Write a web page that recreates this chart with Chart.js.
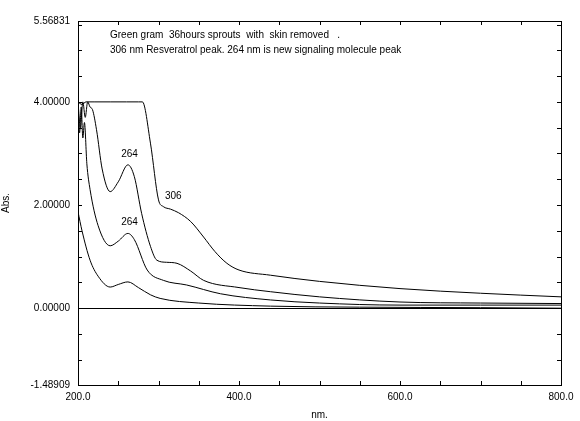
<!DOCTYPE html>
<html><head><meta charset="utf-8">
<script src="https://cdn.jsdelivr.net/npm/chart.js@4"></script>
<style>body{margin:0;background:#fff}#wrap{width:580px;height:421px}</style>
</head><body><div id="wrap"><canvas id="c"></canvas></div>
<script>
// wavelengths (nm) and absorbance
let nm1 = [200, 205, 210, 220, 240, 260, 275, 280, 290, 300, 306, 315, 325, 340, 356, 370, 385, 400, 439, 500, 600, 700, 800];
let abs1 = [4.0, 3.95, 4.0, 4.0, 4.0, 4.0, 4.0, 4.0, 3.2, 2.1, 1.97, 1.92, 1.85, 1.68, 1.38, 1.1, 0.87, 0.74, 0.64, 0.52, 0.38, 0.29, 0.22];
let nm2 = [200, 203, 206, 209, 212, 215, 218, 223, 230, 240, 250, 262, 270, 279, 290, 298, 310, 323, 340, 356, 400, 439, 500, 600, 700, 800];
let abs2 = [4.0, 3.5, 4.0, 3.7, 4.0, 3.9, 3.85, 3.46, 2.7, 2.26, 2.45, 2.78, 2.55, 1.84, 1.2, 0.93, 0.89, 0.87, 0.72, 0.54, 0.4, 0.32, 0.22, 0.12, 0.1, 0.09];
let nm3 = [200, 202, 204, 206, 208, 211, 215, 225, 240, 250, 262, 270, 286, 306, 335, 377, 439, 500, 600, 700, 800];
let abs3 = [4.0, 3.4, 3.9, 3.3, 3.6, 2.8, 2.3, 1.6, 1.21, 1.3, 1.45, 1.33, 0.74, 0.54, 0.45, 0.28, 0.16, 0.1, 0.06, 0.06, 0.06];
let nm4 = [200, 205, 215, 225, 240, 250, 262, 275, 290, 302, 350, 439, 550, 700, 800];
let abs4 = [1.87, 1.5, 0.93, 0.62, 0.41, 0.46, 0.51, 0.4, 0.26, 0.19, 0.1, 0.04, 0.02, 0.01, 0.0];
let yTicks = [-1.48909, 0, 2, 4, 5.56831];
let xTicks = [200, 400, 600, 800];
let peaks = [[264, 2.78, "264"], [264, 1.45, "264"], [306, 1.97, "306"]];
let notes = ["Green gram  36hours sprouts  with  skin removed   .", "306 nm Resveratrol peak. 264 nm is new signaling molecule peak"];

function pts(xs, ys) { return xs.map((x, i) => ({x: x, y: ys[i]})); }
function line(d) {
  return {data: d, borderColor: "#000", borderWidth: 1, pointRadius: 0, cubicInterpolationMode: "monotone", fill: false};
}

const extras = {
  id: "extras",
  afterDraw(c) {
    let ctx = c.ctx, a = c.chartArea, x = c.scales.x, y = c.scales.y;
    ctx.save();
    ctx.strokeStyle = "#000";
    ctx.lineWidth = 1;
    ctx.strokeRect(a.left + 0.5, a.top + 0.5, a.right - a.left, a.bottom - a.top);
    // zero line
    let y0 = Math.round(y.getPixelForValue(0)) + 0.5;
    ctx.beginPath(); ctx.moveTo(a.left, y0); ctx.lineTo(a.right, y0); ctx.stroke();
    // minor ticks
    ctx.beginPath();
    for (let v = -1.5; v <= 5.5; v += 0.5) {
      let p = Math.round(y.getPixelForValue(v)) + 0.5;
      if (p < a.top || p > a.bottom) continue;
      ctx.moveTo(a.left, p); ctx.lineTo(a.left + 4, p);
      ctx.moveTo(a.right, p); ctx.lineTo(a.right - 4, p);
    }
    for (let v = 200; v <= 800; v += 50) {
      let p = Math.round(x.getPixelForValue(v)) + 0.5;
      ctx.moveTo(p, a.bottom); ctx.lineTo(p, a.bottom - 4);
      ctx.moveTo(p, a.top); ctx.lineTo(p, a.top + 4);
    }
    ctx.stroke();
    ctx.fillStyle = "#000";
    ctx.font = "10px 'Liberation Sans', Arial";
    ctx.textAlign = "center";
    peaks.forEach(p => ctx.fillText(p[2], x.getPixelForValue(p[0]) + (p[2] == "306" ? 10 : 0), y.getPixelForValue(p[1]) - 8));
    ctx.textAlign = "left";
    ctx.fillText(notes[0], 110, 38);
    ctx.fillText(notes[1], 110, 53);
    ctx.restore();
  }
};

new Chart(document.getElementById("c"), {
  type: "line",
  data: {datasets: [line(pts(nm1, abs1)), line(pts(nm2, abs2)), line(pts(nm3, abs3)), line(pts(nm4, abs4))]},
  options: {
    responsive: true, maintainAspectRatio: false, animation: false,
    layout: {padding: {top: 21, right: 19, left: 0, bottom: 0}},
    plugins: {legend: {display: false}, tooltip: {enabled: false}},
    scales: {
      x: {
        type: "linear", min: 200, max: 800,
        afterBuildTicks: s => { s.ticks = xTicks.map(v => ({value: v})); },
        afterFit: s => { s.height = 36; },
        grid: {display: false, drawTicks: true, tickLength: 4, color: "#000"},
        border: {color: "#000"},
        ticks: {color: "#000", font: {size: 10, family: "'Liberation Sans', Arial"}, maxRotation: 0, padding: 2,
          callback: v => v.toFixed(1)},
        title: {display: true, text: "nm.", color: "#000", font: {size: 10, family: "'Liberation Sans', Arial"}, padding: 0}
      },
      y: {
        min: -1.48909, max: 5.56831,
        afterBuildTicks: s => { s.ticks = yTicks.map(v => ({value: v})); },
        afterFit: s => { s.width = 78; },
        grid: {display: false, drawTicks: true, tickLength: 4, color: "#000"},
        border: {color: "#000"},
        ticks: {color: "#000", font: {size: 10, family: "'Liberation Sans', Arial"}, padding: 4,
          callback: v => v.toFixed(5)},
        title: {display: true, text: "Abs.", color: "#000", font: {size: 10, family: "'Liberation Sans', Arial"}, padding: 0}
      }
    }
  },
  plugins: [extras]
});
</script></body></html>
